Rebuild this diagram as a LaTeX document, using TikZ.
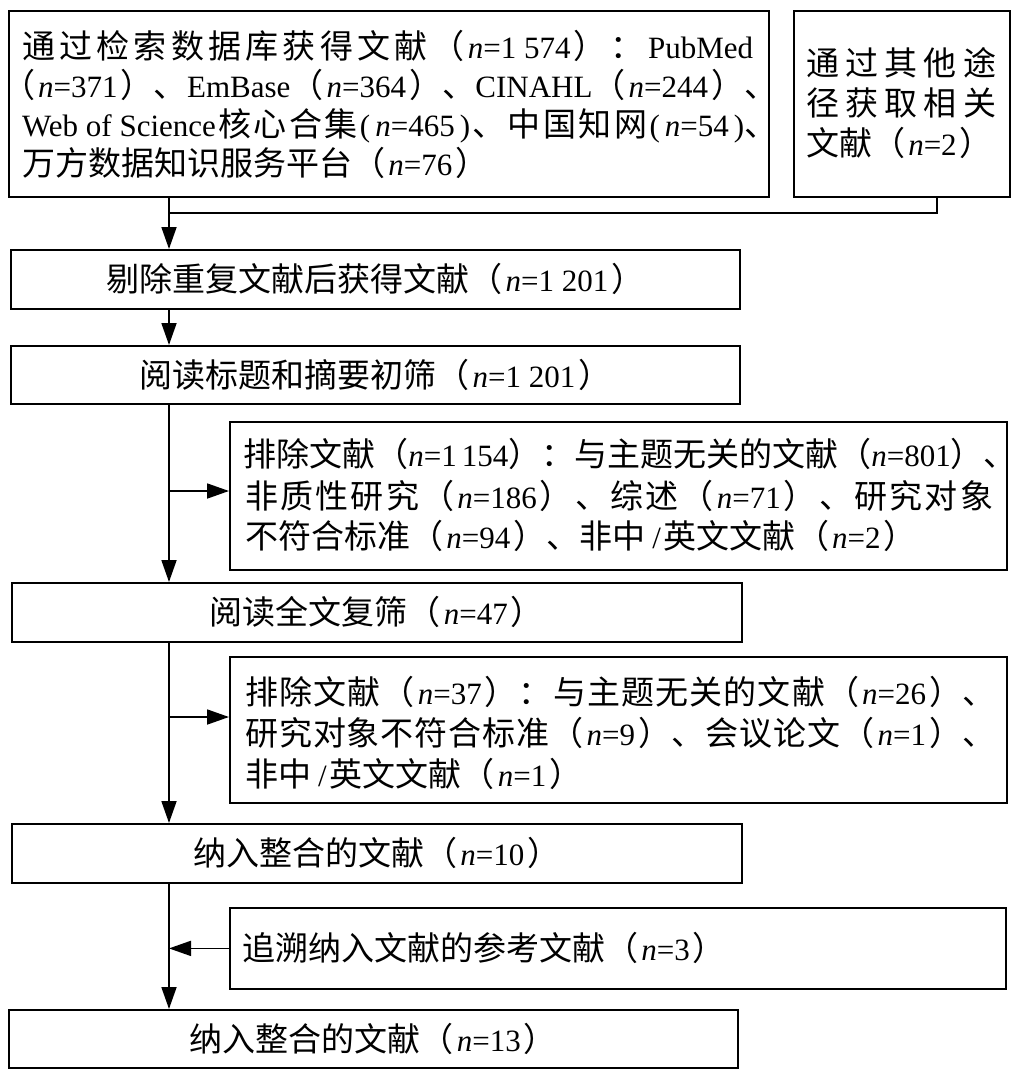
\documentclass[tikz,border=0pt]{standalone}
\usepackage{fontspec}
\setmainfont{Liberation Serif}
\newfontfamily\cjk[Scale=1.065]{Noto Sans CJK SC}
\usetikzlibrary{arrows.meta,calc}
\newcommand\cjs[1]{{\cjk\cjsx#1\relax}}
\def\cjsx#1{\ifx\relax#1\else#1\hfill\expandafter\cjsx\fi}
\newcommand\jline[2]{\makebox[#1][s]{#2\unskip}}
\newcommand\LP{{\cjk （}\kern3pt}
\newcommand\RP{\kern3pt{\cjk ）}\hfill}
\newcommand\lpn{{\cjk （}}
\newcommand\rpn{{\cjk ）}\hfill}
\newcommand\slsh{\kern7pt/\kern3pt}
\begin{document}
\begin{tikzpicture}[x=1pt,y=-1pt,
  box/.style={draw, line width=1.8pt, inner sep=0pt, anchor=north west},
  txt/.style={inner sep=0pt, font=\fontsize{31pt}{39pt}\selectfont},
  ln/.style={line width=1.8pt},
  arr/.style={line width=1.8pt, -{Triangle[length=22pt,width=15pt]}}]
\useasboundingbox (0,0) rectangle (1018,1077);
% boxes
\node[box, minimum width=760pt, minimum height=186pt] (b1) at (8,10) {};
\node[box, minimum width=216pt, minimum height=186pt] (b2) at (793,10) {};
\node[box, minimum width=729pt, minimum height=59pt] (b3) at (10,249) {};
\node[box, minimum width=729pt, minimum height=58pt] (b4) at (10,345) {};
\node[box, minimum width=777pt, minimum height=148pt] (b5) at (229,421) {};
\node[box, minimum width=730pt, minimum height=59pt] (b6) at (11,582) {};
\node[box, minimum width=777pt, minimum height=146pt] (b7) at (229,656) {};
\node[box, minimum width=730pt, minimum height=59pt] (b8) at (11,823) {};
\node[box, minimum width=776pt, minimum height=81pt] (b9) at (229,907) {};
\node[box, minimum width=729pt, minimum height=58pt] (b10) at (8,1009) {};
% texts
\node[txt, anchor=base west] (t1a) at (22,58) {\jline{731pt}{\cjs{通过检索数据库获得文献}\LP\textit{n}=1 574\RP\cjs{：}PubMed}};
\node[txt, anchor=base west] (t1b) at (2,97) {\jline{742pt}{\LP\textit{n}=371\RP\cjs{、}EmBase\hfill\LP\textit{n}=364\RP\cjs{、}CINAHL\hfill\LP\textit{n}=244\RP\unskip\rlap{\cjk 、}}};
\node[txt, anchor=base west] (t1c) at (22,136) {\jline{722pt}{Web of Science\hfill\cjs{核心合集}(\kern5pt\textit{n}=465\kern5pt)\hfill\cjs{、中国知网}(\kern5pt\textit{n}=54\kern5pt)\rlap{\cjk 、}}};
\node[txt, anchor=base west] (t1d) at (22,175) {\cjs{万方数据知识服务平台}\LP\textit{n}=76\RP};
\node[txt, anchor=base west] (t2a) at (806,75) {\jline{190pt}{\cjs{通过其他途}}};
\node[txt, anchor=base west] (t2b) at (806,115) {\jline{190pt}{\cjs{径获取相关}}};
\node[txt, anchor=base west] (t2c) at (806,155) {\cjs{文献}\LP\textit{n}=2\RP};
\node[txt, anchor=base] (t3) at ($(b3.center)+(0,12.5)$) {\cjs{剔除重复文献后获得文献}\LP\textit{n}=1 201\RP};
\node[txt, anchor=base] (t4) at ($(b4.center)+(0,12.5)$) {\cjs{阅读标题和摘要初筛}\LP\textit{n}=1 201\RP};
\node[txt, anchor=base west] (t5a) at (243,466) {\jline{734pt}{\cjs{排除文献}\lpn\textit{n}=1\kern5pt154\rpn\cjs{：与主题无关的文献}\lpn\textit{n}=801\rpn\unskip\rlap{\cjk 、}}};
\node[txt, anchor=base west] (t5b) at (245,508) {\jline{748pt}{\cjs{非质性研究}\LP\textit{n}=186\RP\cjs{、综述}\LP\textit{n}=71\RP\cjs{、研究对象}}};
\node[txt, anchor=base west] (t5c) at (245,548) {\cjs{不符合标准}\LP\textit{n}=94\RP\cjs{、非中}\slsh\cjs{英文文献}\LP\textit{n}=2\RP};
\node[txt, anchor=base] (t6) at ($(b6.center)+(0,12.5)$) {\cjs{阅读全文复筛}\LP\textit{n}=47\RP};
\node[txt, anchor=base west] (t7a) at (245,704) {\jline{717pt}{\cjs{排除文献}\LP\textit{n}=37\RP\cjs{：与主题无关的文献}\LP\textit{n}=26\RP\unskip\rlap{\cjk 、}}};
\node[txt, anchor=base west] (t7b) at (245,745) {\jline{717pt}{\cjs{研究对象不符合标准}\LP\textit{n}=9\RP\cjs{、会议论文}\LP\textit{n}=1\RP\unskip\rlap{\cjk 、}}};
\node[txt, anchor=base west] (t7c) at (245,786) {\cjs{非中}\slsh\cjs{英文文献}\LP\textit{n}=1\RP};
\node[txt, anchor=base] (t8) at ($(b8.center)+(0,12.5)$) {\cjs{纳入整合的文献}\LP\textit{n}=10\RP};
\node[txt, anchor=base west] (t9) at ($(b9.west)+(13,12.5)$) {\cjs{追溯纳入文献的参考文献}\LP\textit{n}=3\RP};
\node[txt, anchor=base] (t10) at ($(b10.center)+(0,12.5)$) {\cjs{纳入整合的文献}\LP\textit{n}=13\RP};
% connectors
\coordinate (j) at (169,213);
\coordinate (k) at (937,213);
\coordinate (e1) at (229,491);
\coordinate (e2) at (229,717);
\draw[ln] (b1.south -| j) -- (j);
\draw[ln] (b2.south -| k) -- (k) -- (j);
\draw[arr] (j) -- (b3.north -| j);
\draw[arr] (b3.south -| j) -- (b4.north -| j);
\draw[arr] (b4.south -| j) -- (b6.north -| j);
\draw[arr] (j |- e1) -- (b5.west |- e1);
\draw[arr] (b6.south -| j) -- (b8.north -| j);
\draw[arr] (j |- e2) -- (b7.west |- e2);
\draw[arr] (b8.south -| j) -- (b10.north -| j);
\draw[arr] (b9.west) -- (j |- b9.west);
\end{tikzpicture}
\end{document}
